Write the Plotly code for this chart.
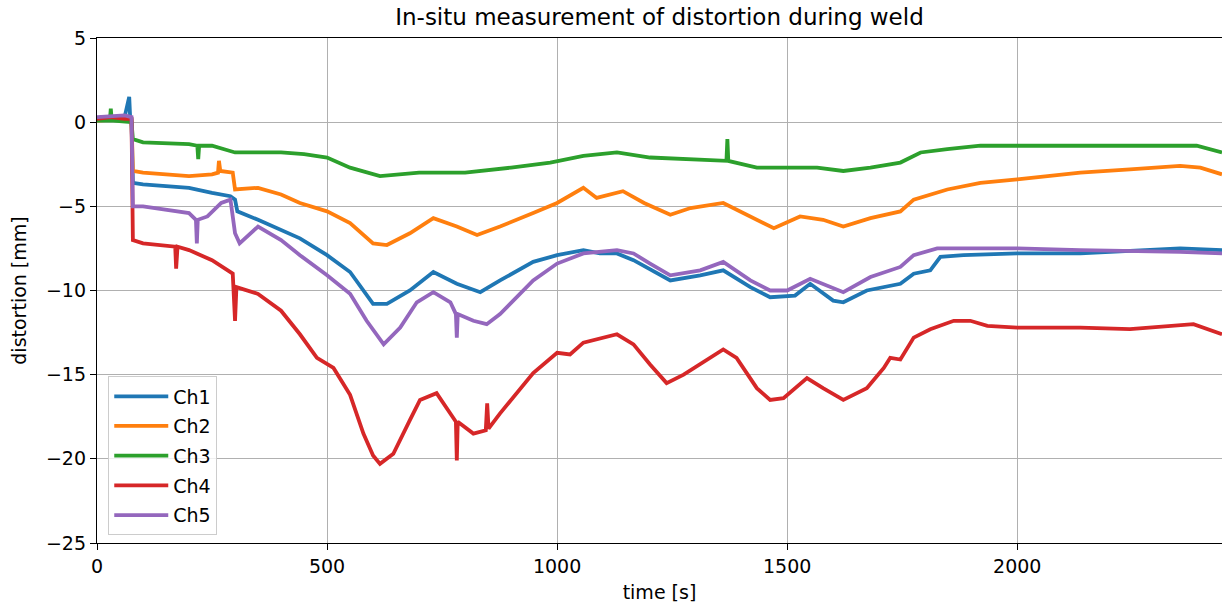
import plotly.graph_objects as go

# ---- data ----
ch1_t = [0, 30, 60, 70, 72, 75, 78, 100, 150, 200, 250, 290, 300, 305, 350, 400, 441, 500, 550, 600, 630, 680,
         731, 782, 833, 876, 948, 1000, 1057, 1093, 1130, 1166, 1246, 1311, 1361, 1420, 1463, 1517, 1550, 1600,
         1622, 1673, 1746, 1775, 1811, 1833, 1883, 2000, 2137, 2354, 2445]
ch1_v = [0.1, 0.2, 0.3, 1.5, 0.3, 0.2, -3.6, -3.7, -3.8, -3.9, -4.2, -4.4, -4.6, -5.3, -5.8, -6.4, -6.9, -7.9,
         -8.9, -10.8, -10.8, -10.0, -8.9, -9.6, -10.1, -9.4, -8.3, -7.9, -7.6, -7.8, -7.8, -8.2, -9.4, -9.1, -8.8,
         -9.8, -10.4, -10.3, -9.6, -10.6, -10.7, -10.0, -9.6, -9.0, -8.8, -8.0, -7.9, -7.8, -7.8, -7.5, -7.6]

ch2_t = [0, 60, 75, 78, 100, 200, 250, 263, 265, 268, 295, 300, 350, 400, 441, 500, 550, 600, 630, 680, 731, 782,
         826, 876, 948, 1000, 1057, 1086, 1143, 1189, 1246, 1290, 1361, 1420, 1471, 1528, 1578, 1622, 1681, 1746,
         1775, 1848, 1920, 2000, 2137, 2245, 2354, 2398, 2445]
ch2_v = [0.1, 0.2, 0.1, -2.9, -3.0, -3.2, -3.1, -3.0, -2.3, -2.9, -3.0, -4.0, -3.9, -4.3, -4.8, -5.3, -6.0, -7.2,
         -7.3, -6.6, -5.7, -6.2, -6.7, -6.2, -5.4, -4.8, -3.9, -4.5, -4.1, -4.8, -5.5, -5.1, -4.8, -5.6, -6.3, -5.6,
         -5.8, -6.2, -5.7, -5.3, -4.6, -4.0, -3.6, -3.4, -3.0, -2.8, -2.6, -2.7, -3.1]

ch3_t = [0, 28, 30, 32, 75, 78, 100, 200, 218, 220, 222, 250, 300, 400, 450, 500, 550, 615, 700, 800, 900, 985,
         1057, 1130, 1202, 1290, 1368, 1370, 1372, 1434, 1500, 1565, 1622, 1681, 1746, 1790, 1848, 1920, 2000,
         2137, 2282, 2390, 2445]
ch3_v = [0.1, 0.1, 0.8, 0.1, 0.0, -1.0, -1.2, -1.3, -1.4, -2.2, -1.4, -1.4, -1.8, -1.8, -1.9, -2.1, -2.7, -3.2,
         -3.0, -3.0, -2.7, -2.4, -2.0, -1.8, -2.1, -2.2, -2.3, -1.0, -2.3, -2.7, -2.7, -2.7, -2.9, -2.7, -2.4,
         -1.8, -1.6, -1.4, -1.4, -1.4, -1.4, -1.4, -1.8]

ch4_t = [0, 30, 60, 75, 78, 100, 170, 172, 175, 200, 250, 295, 300, 303, 350, 400, 441, 478, 514, 550, 579, 600,
         615, 644, 680, 702, 738, 780, 782, 784, 818, 845, 848, 851, 876, 948, 1000, 1028, 1057, 1130, 1166, 1202,
         1238, 1275, 1361, 1390, 1434, 1463, 1492, 1543, 1578, 1622, 1673, 1710, 1724, 1746, 1775, 1811, 1862,
         1898, 1935, 2000, 2137, 2245, 2383, 2445]
ch4_v = [0.2, 0.3, 0.2, 0.2, -7.0, -7.2, -7.4, -8.7, -7.4, -7.6, -8.2, -9.0, -11.8, -9.8, -10.2, -11.2, -12.6,
         -14.0, -14.6, -16.2, -18.5, -19.8, -20.3, -19.7, -17.7, -16.5, -16.1, -17.8, -20.1, -17.8, -18.5, -18.3,
         -16.7, -18.2, -17.3, -14.9, -13.7, -13.8, -13.1, -12.6, -13.2, -14.4, -15.5, -15.0, -13.5, -14.0, -15.8,
         -16.5, -16.4, -15.2, -15.8, -16.5, -15.8, -14.6, -14.0, -14.1, -12.8, -12.3, -11.8, -11.8, -12.1, -12.2,
         -12.2, -12.3, -12.0, -12.6]

ch5_t = [0, 60, 75, 78, 100, 150, 200, 215, 217, 219, 240, 270, 290, 300, 310, 350, 400, 441, 500, 550, 586, 623,
         659, 695, 731, 768, 780, 782, 784, 818, 847, 876, 948, 1000, 1057, 1130, 1166, 1202, 1246, 1311, 1361,
         1420, 1463, 1500, 1550, 1622, 1681, 1746, 1775, 1826, 2000, 2137, 2354, 2445]
ch5_v = [0.3, 0.4, 0.3, -5.0, -5.0, -5.2, -5.4, -5.8, -7.2, -5.8, -5.6, -4.8, -4.6, -6.6, -7.2, -6.2, -7.0, -7.9,
         -9.1, -10.2, -11.8, -13.2, -12.2, -10.7, -10.1, -10.7, -11.4, -12.8, -11.4, -11.8, -12.0, -11.4, -9.4,
         -8.4, -7.8, -7.6, -7.8, -8.4, -9.1, -8.8, -8.3, -9.4, -10.0, -10.0, -9.3, -10.1, -9.2, -8.6, -7.9, -7.5,
         -7.5, -7.6, -7.7, -7.8]

names = ["Ch1", "Ch2", "Ch3", "Ch4", "Ch5"]
colors = ["#1f77b4", "#ff7f0e", "#2ca02c", "#d62728", "#9467bd"]
series = [(ch1_t, ch1_v), (ch2_t, ch2_v), (ch3_t, ch3_v), (ch4_t, ch4_v), (ch5_t, ch5_v)]

x_ticks = [0, 500, 1000, 1500, 2000]
y_ticks = [5, 0, -5, -10, -15, -20, -25]
y_tick_text = ["5", "0", "\u22125", "\u221210", "\u221215", "\u221220", "\u221225"]

fig = go.Figure()
for name, color, (t, v) in zip(names, colors, series):
    fig.add_trace(go.Scatter(x=t, y=v, mode="lines", name=name, legendgroup=name,
                             line=dict(color=color, width=3.8)))

font_family = "DejaVu Sans"
fig.update_layout(
    width=1223, height=603,
    paper_bgcolor="white", plot_bgcolor="white",
    margin=dict(l=97, r=1, t=38, b=60, autoexpand=False),
    font=dict(family=font_family, size=19, color="black"),
    title=dict(text="In-situ measurement of distortion during weld", xref="paper", x=0.5, xanchor="center",
               y=1 - 17 / 603, yanchor="middle", font=dict(size=23, family=font_family)),
    legend=dict(x=0.01, y=0.015, xanchor="left", yanchor="bottom", traceorder="grouped",
                tracegroupgap=2, itemwidth=54,
                bgcolor="rgba(255,255,255,0.8)", bordercolor="#cccccc", borderwidth=1,
                font=dict(size=19, family=font_family)),
    showlegend=True,
)
fig.update_xaxes(range=[0, 2445], tickvals=x_ticks, showgrid=True, gridcolor="#b0b0b0", gridwidth=1,
                 showline=True, linecolor="black", linewidth=1.3, mirror=True, automargin=False,
                 ticks="outside", ticklen=6, tickcolor="black", zeroline=False,
                 title=dict(text="time [s]", font=dict(size=19), standoff=9))
fig.update_yaxes(range=[-25, 5], tickvals=y_ticks, ticktext=y_tick_text, showgrid=True,
                 gridcolor="#b0b0b0", gridwidth=1,
                 showline=True, linecolor="black", linewidth=1.3, mirror=False, automargin=False,
                 ticks="outside", ticklen=6, tickcolor="black", zeroline=False,
                 title=dict(text="distortion [mm]", font=dict(size=19), standoff=14))

fig.write_html("out.html", config={"displayModeBar": False},
               post_script="document.body.style.margin='0';document.body.style.overflow='hidden';")
